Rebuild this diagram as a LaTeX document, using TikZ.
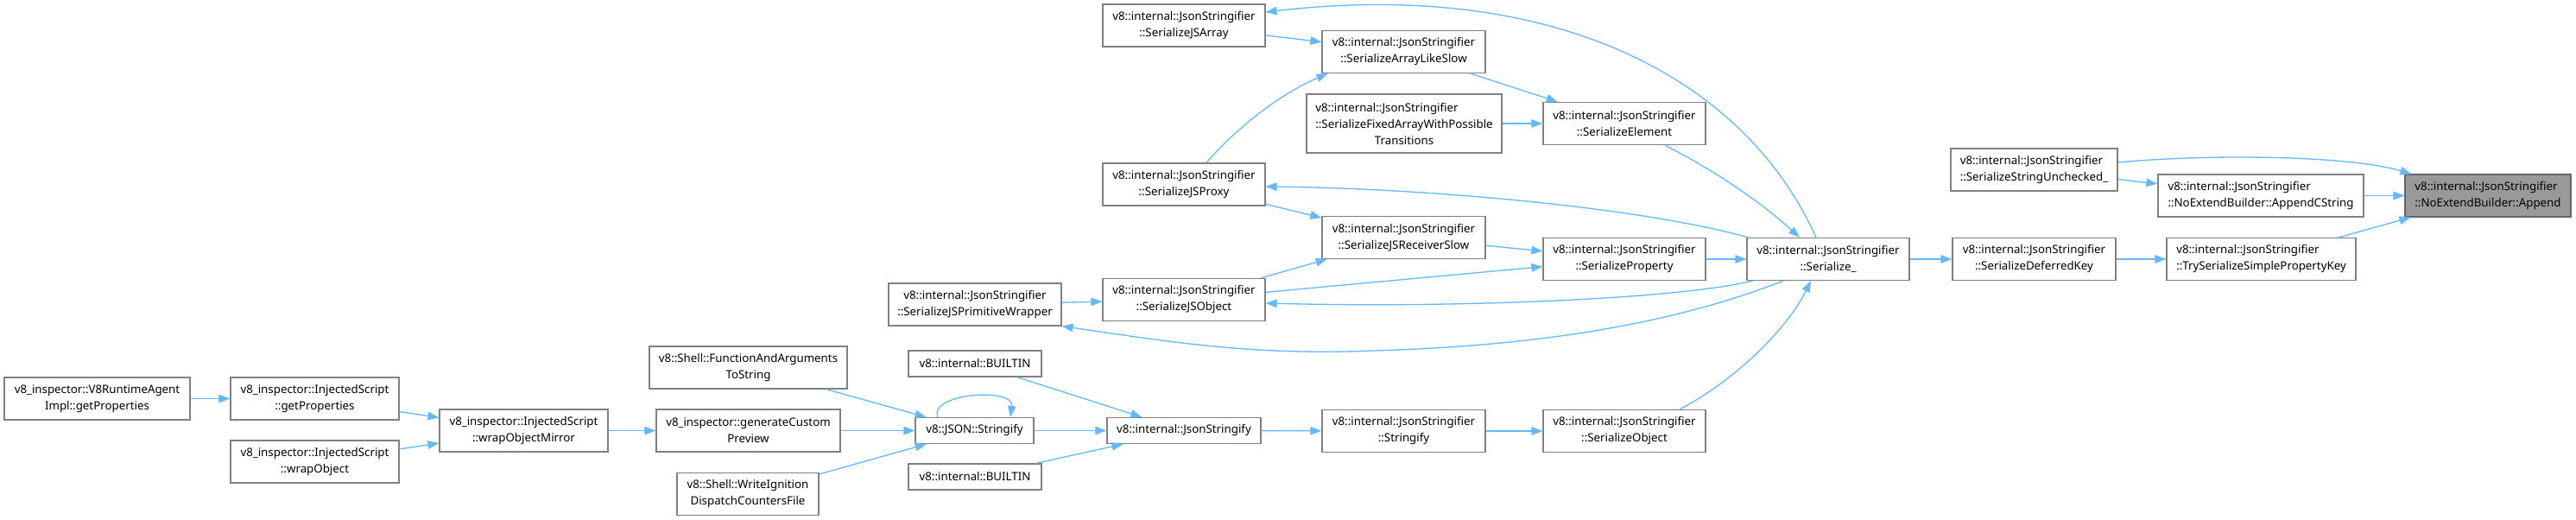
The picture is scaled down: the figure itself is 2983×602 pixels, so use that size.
\documentclass[tikz,border=0pt]{standalone}
\usepackage{fontspec}
\setmainfont{Noto Sans}
\usetikzlibrary{arrows.meta}
\definecolor{edgeblue}{HTML}{63B8FF}
\definecolor{boxgray}{HTML}{808080}
\definecolor{hlfill}{HTML}{999999}
\definecolor{hldraw}{HTML}{666666}
\begin{document}
\begin{tikzpicture}[x=1pt,y=-1pt,
  box/.style={draw=boxgray, line width=1.2pt, fill=white, inner sep=0pt, align=center, font=\fontsize{13.3}{19}\selectfont},
  lbox/.style={box, align=left},
  hl/.style={lbox, fill=hlfill, draw=hldraw},
  edge/.style={draw=edgeblue, line width=1.3pt, -{Triangle[length=13pt,width=9.5pt]}},
]
\useasboundingbox[fill=white] (0,0) rectangle (2983,602);

\node[box, minimum width=215pt, minimum height=49pt] (rta) at (112.5,461.5) {v8\_inspector::V8RuntimeAgent\\Impl::getProperties};
\node[box, minimum width=195pt, minimum height=49pt] (isgp) at (364.5,461.5) {v8\_inspector::InjectedScript\\::getProperties};
\node[box, minimum width=195pt, minimum height=49pt] (iswo) at (364.5,534.5) {v8\_inspector::InjectedScript\\::wrapObject};
\node[box, minimum width=195pt, minimum height=49pt] (iswom) at (606.5,498.5) {v8\_inspector::InjectedScript\\::wrapObjectMirror};
\node[box, minimum width=229pt, minimum height=49pt] (fats) at (866.5,425.5) {v8::Shell::FunctionAndArguments\\ToString};
\node[box, minimum width=213pt, minimum height=49pt] (gcp) at (866.5,498.5) {v8\_inspector::generateCustom\\Preview};
\node[box, minimum width=164pt, minimum height=49pt] (wid) at (866,572) {v8::Shell::WriteIgnition\\DispatchCountersFile};
\node[box, minimum width=137pt, minimum height=30pt] (jsons) at (1128.5,498.5) {v8::JSON::Stringify};
\node[box, minimum width=154pt, minimum height=30pt] (b1) at (1129,421) {v8::internal::BUILTIN};
\node[box, minimum width=154pt, minimum height=30pt] (b2) at (1129,552) {v8::internal::BUILTIN};
\node[box, minimum width=200pt, minimum height=49pt] (jsw) at (1129,352.5) {v8::internal::JsonStringifier\\::SerializeJSPrimitiveWrapper};
\node[box, minimum width=188pt, minimum height=49pt] (jsarr) at (1371,29.5) {v8::internal::JsonStringifier\\::SerializeJSArray};
\node[box, minimum width=188pt, minimum height=49pt] (jsproxy) at (1371,213.5) {v8::internal::JsonStringifier\\::SerializeJSProxy};
\node[box, minimum width=188pt, minimum height=49pt] (jsobj) at (1371,347) {v8::internal::JsonStringifier\\::SerializeJSObject};
\node[box, minimum width=178pt, minimum height=30pt] (jsonstr) at (1371,498.5) {v8::internal::JsonStringify};
\node[box, minimum width=189pt, minimum height=49pt] (als) at (1625.5,60) {v8::internal::JsonStringifier\\::SerializeArrayLikeSlow};
\node[box, minimum width=226pt, minimum height=68pt] (fixed) at (1626,143) {\rlap{v8::internal::JsonStringifier}\phantom{::SerializeFixedArrayWithPossible}\\::SerializeFixedArrayWithPossible\\Transitions};
\node[box, minimum width=189pt, minimum height=49pt] (rslow) at (1625.5,275) {v8::internal::JsonStringifier\\::SerializeJSReceiverSlow};
\node[box, minimum width=189pt, minimum height=49pt] (strfy) at (1625.5,499) {v8::internal::JsonStringifier\\::Stringify};
\node[box, minimum width=188pt, minimum height=49pt] (elem) at (1881,143) {v8::internal::JsonStringifier\\::SerializeElement};
\node[box, minimum width=188pt, minimum height=49pt] (prop) at (1881,300) {v8::internal::JsonStringifier\\::SerializeProperty};
\node[box, minimum width=188pt, minimum height=49pt] (sobj) at (1881,499) {v8::internal::JsonStringifier\\::SerializeObject};
\node[box, minimum width=188pt, minimum height=49pt] (ser) at (2117,300) {v8::internal::JsonStringifier\\::Serialize\_};
\node[lbox, minimum width=193pt, minimum height=49pt] (ssu) at (2355.5,196.5) {v8::internal::JsonStringifier\\::SerializeStringUnchecked\_};
\node[box, minimum width=189pt, minimum height=49pt] (sdk) at (2355.5,300) {v8::internal::JsonStringifier\\::SerializeDeferredKey};
\node[lbox, minimum width=238pt, minimum height=49pt] (appc) at (2618,226.5) {v8::internal::JsonStringifier\\::NoExtendBuilder::AppendCString};
\node[lbox, minimum width=219pt, minimum height=49pt] (tsk) at (2618.5,300) {v8::internal::JsonStringifier\\::TrySerializeSimplePropertyKey};
\node[hl, minimum width=192pt, minimum height=49pt] (app) at (2881,226.5) {v8::internal::JsonStringifier\\::NoExtendBuilder::Append};

\draw[edge] (rta) -- (isgp);
\draw[edge] (isgp) -- (iswom);
\draw[edge] (iswo) -- (iswom);
\draw[edge] (iswom) -- (gcp);
\draw[edge] (gcp) -- (jsons);
\draw[edge] (fats) -- (jsons);
\draw[edge] (wid) -- (jsons);
\draw[edge] ([xshift=-42.5pt]jsons.north) .. controls (1075,455) and (1175,448) .. ([xshift=41.5pt]jsons.north);
\draw[edge] (jsons) -- (jsonstr);
\draw[edge] (b1) -- (jsonstr);
\draw[edge] (b2) -- (jsonstr);
\draw[edge] (jsonstr) -- (strfy);
\draw[edge] (strfy) -- (sobj);
\draw[edge] ([xshift=64pt]sobj.north) .. controls (2010,440) and (2070,380) .. ([xshift=-20pt]ser.south);
\draw[edge] (jsw) -- (jsobj);
\draw[edge] (jsobj) -- (rslow);
\draw[edge] (jsobj) -- (prop);
\draw[edge] (rslow) -- (prop);
\draw[edge] (jsproxy) -- (rslow);
\draw[edge] (jsarr) -- (als);
\draw[edge] ([xshift=26pt]jsproxy.north) .. controls (1430,150) and (1480,110) .. ([xshift=7pt]als.south west);
\draw[edge] (als) -- (elem);
\draw[edge] (fixed) -- (elem);
\draw[edge] ([xshift=47pt]elem.south) .. controls (1990,200) and (2040,235) .. ([xshift=-33pt]ser.north);
\draw[edge] (prop) -- (ser);
\draw[edge] ([xshift=-14pt]ser.north) .. controls (2020,90) and (1800,-25) .. ([yshift=15.5pt]jsarr.east);
\draw[edge] ([xshift=2pt]ser.north west) .. controls (1900,240) and (1650,218) .. ([yshift=-2.5pt]jsproxy.east);
\draw[edge] ([xshift=7pt]ser.south west) .. controls (1950,345) and (1700,357) .. ([yshift=-4pt]jsobj.east);
\draw[edge] ([xshift=-52pt]ser.south) .. controls (1950,370) and (1800,400) .. (1590,406) .. controls (1450,412) and (1350,395) .. (jsw.south east);
\draw[edge] (ser) -- (sdk);
\draw[edge] (sdk) -- (tsk);
\draw[edge] (tsk) -- (app);
\draw[edge] (appc) -- (app);
\draw[edge] (ssu) -- (appc);
\draw[edge] ([yshift=8.5pt]ssu.east) .. controls (2560,178) and (2720,180) .. ([xshift=8pt]app.north west);
\end{tikzpicture}
\end{document}
